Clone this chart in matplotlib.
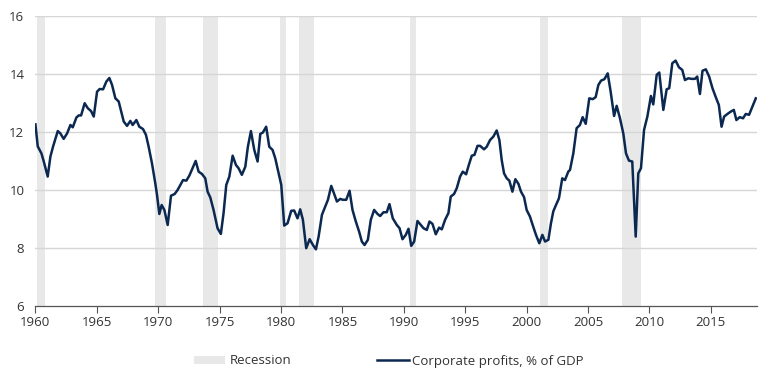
import matplotlib.pyplot as plt
from matplotlib.patches import Patch
from matplotlib.lines import Line2D

plt.rcParams['font.family'] = ['Open Sans', 'DejaVu Sans']

# corporate profits, % of GDP (roughly quarterly)
years = [
    1960.0, 1960.19, 1960.49, 1960.68, 1961.0, 1961.22, 1961.44, 1961.82,
    1962.03, 1962.3, 1962.58, 1962.85, 1963.04, 1963.34, 1963.53, 1963.72,
    1964.01, 1964.26, 1964.53, 1964.75, 1965.02, 1965.23, 1965.51, 1965.78,
    1966.02, 1966.24, 1966.51, 1966.78, 1967.05, 1967.19, 1967.46, 1967.73,
    1967.92, 1968.22, 1968.46, 1968.76, 1969.0, 1969.22, 1969.49, 1969.76,
    1969.9, 1970.09, 1970.28, 1970.5, 1970.77, 1971.04, 1971.34, 1971.58,
    1971.8, 1972.02, 1972.29, 1972.53, 1972.8, 1973.05, 1973.29, 1973.56,
    1973.83, 1974.02, 1974.24, 1974.51, 1974.83, 1975.1, 1975.32, 1975.54,
    1975.79, 1976.06, 1976.33, 1976.54, 1976.81, 1977.09, 1977.3, 1977.55,
    1977.82, 1978.09, 1978.31, 1978.52, 1978.79, 1979.04, 1979.31, 1979.53,
    1979.74, 1980.02, 1980.26, 1980.53, 1980.83, 1981.07, 1981.34, 1981.56,
    1981.78, 1982.05, 1982.33, 1982.6, 1982.84, 1983.06, 1983.33, 1983.6,
    1983.82, 1984.09, 1984.33, 1984.55, 1984.82, 1985.03, 1985.31, 1985.58,
    1985.82, 1986.09, 1986.36, 1986.58, 1986.8, 1987.07, 1987.31, 1987.58,
    1987.86, 1988.07, 1988.34, 1988.61, 1988.83, 1989.1, 1989.43, 1989.65,
    1989.89, 1990.16, 1990.38, 1990.6, 1990.84, 1991.11, 1991.38, 1991.6,
    1991.87, 1992.09, 1992.33, 1992.6, 1992.87, 1993.09, 1993.36, 1993.63,
    1993.82, 1994.09, 1994.31, 1994.58, 1994.8, 1995.07, 1995.29, 1995.53,
    1995.75, 1996.0, 1996.21, 1996.53, 1996.75, 1997.02, 1997.29, 1997.56,
    1997.78, 1997.97, 1998.16, 1998.38, 1998.59, 1998.84, 1999.08, 1999.33,
    1999.54, 1999.79, 2000.0, 2000.27, 2000.49, 2000.76, 2001.03, 2001.28,
    2001.5, 2001.77, 2001.98, 2002.17, 2002.39, 2002.63, 2002.9, 2003.12,
    2003.39, 2003.53, 2003.8, 2004.07, 2004.34, 2004.56, 2004.81, 2005.1,
    2005.38, 2005.62, 2005.84, 2006.06, 2006.33, 2006.6, 2006.84, 2007.12,
    2007.33, 2007.6, 2007.87, 2008.09, 2008.33, 2008.6, 2008.88, 2009.09,
    2009.31, 2009.56, 2009.83, 2010.12, 2010.31, 2010.59, 2010.8, 2011.13,
    2011.4, 2011.61, 2011.86, 2012.13, 2012.4, 2012.67, 2012.89, 2013.16,
    2013.43, 2013.7, 2013.89, 2014.11, 2014.32, 2014.59, 2014.86, 2015.13,
    2015.4, 2015.65, 2015.87, 2016.08, 2016.35, 2016.62, 2016.87, 2017.08,
    2017.35, 2017.62, 2017.84, 2018.11, 2018.38, 2018.66,
]
profits = [
    12.26, 11.5, 11.26, 10.98, 10.46, 11.15, 11.5, 12.03,
    11.95, 11.76, 11.95, 12.24, 12.16, 12.5, 12.57, 12.57,
    12.99, 12.82, 12.72, 12.53, 13.39, 13.48, 13.47, 13.74,
    13.86, 13.62, 13.16, 13.05, 12.6, 12.36, 12.21, 12.38,
    12.24, 12.41, 12.18, 12.1, 11.9, 11.49, 10.92, 10.23,
    9.83, 9.17, 9.48, 9.31, 8.79, 9.8, 9.86, 10.0,
    10.17, 10.34, 10.32, 10.49, 10.75, 11.0, 10.63, 10.55,
    10.4, 9.94, 9.74, 9.3, 8.68, 8.48, 9.2, 10.17,
    10.46, 11.18, 10.86, 10.75, 10.52, 10.8, 11.49, 12.03,
    11.38, 10.98, 11.93, 11.98, 12.18, 11.49, 11.38, 11.09,
    10.69, 10.17, 8.77, 8.85, 9.28, 9.29, 9.02, 9.33,
    8.97, 7.99, 8.3, 8.1, 7.95, 8.39, 9.14, 9.43,
    9.66, 10.14, 9.86, 9.6, 9.69, 9.66, 9.66, 9.97,
    9.31, 8.91, 8.56, 8.22, 8.1, 8.28, 8.97, 9.31,
    9.17, 9.1, 9.23, 9.23, 9.51, 9.02, 8.79, 8.68,
    8.3, 8.45, 8.66, 8.07, 8.22, 8.93, 8.79, 8.68,
    8.62, 8.91, 8.83, 8.47, 8.7, 8.64, 8.97, 9.2,
    9.77, 9.86, 10.06, 10.46, 10.63, 10.54, 10.86, 11.18,
    11.21, 11.52, 11.52, 11.4, 11.49, 11.72, 11.84, 12.05,
    11.72, 11.03, 10.57, 10.4, 10.32, 9.94, 10.37, 10.21,
    9.94, 9.75, 9.31, 9.08, 8.79, 8.45, 8.16, 8.45,
    8.22, 8.28, 8.85, 9.26, 9.48, 9.71, 10.4, 10.34,
    10.63, 10.69, 11.26, 12.13, 12.24, 12.51, 12.28, 13.16,
    13.13, 13.2, 13.62, 13.77, 13.82, 14.02, 13.39, 12.55,
    12.9, 12.47, 11.95, 11.26, 11.01, 10.98, 8.39, 10.57,
    10.75, 12.07, 12.53, 13.24, 12.95, 13.97, 14.05, 12.76,
    13.47, 13.51, 14.37, 14.46, 14.23, 14.14, 13.79, 13.85,
    13.83, 13.83, 13.91, 13.31, 14.11, 14.16, 13.91, 13.51,
    13.2, 12.93, 12.18, 12.53, 12.62, 12.7, 12.76, 12.41,
    12.51, 12.47, 12.62, 12.59, 12.87, 13.16,
]

# recession bands (start, end) as fractional years, as drawn
rec_start = [1960.15, 1969.7, 1973.67, 1979.95, 1981.48, 1990.5, 2001.08, 2007.77]
rec_end = [1960.8, 1970.65, 1974.9, 1980.42, 1982.7, 1991.0, 2001.75, 2009.3]

xticks = list(range(1960, 2016, 5))
yticks = [6, 8, 10, 12, 14, 16]

line_col = '#0b2850'
rec_col = '#e8e8e8'
grid_col = '#d6d6d6'
text_col = '#333333'

fig = plt.figure(figsize=(7.7, 3.8), dpi=100)
ax = fig.add_axes([0.046, 0.195, 0.937, 0.763])

for s, e in zip(rec_start, rec_end):
    ax.axvspan(s, e, color=rec_col, lw=0, zorder=0)

for y in yticks[1:]:
    ax.axhline(y, color=grid_col, lw=1.0, zorder=1)

ax.plot(years, profits, color=line_col, lw=1.8, zorder=3)

ax.set_xlim(1960, 2018.75)
ax.set_ylim(6, 16)
ax.set_xticks(xticks)
ax.set_yticks(yticks)
ax.tick_params(axis='y', length=0, labelsize=9.5, colors=text_col, pad=8)
ax.tick_params(axis='x', length=5, width=0.8, color='#555555',
               labelsize=9.5, labelcolor=text_col, pad=2)
for side in ['top', 'right', 'left']:
    ax.spines[side].set_visible(False)
ax.spines['bottom'].set_color('#555555')
ax.spines['bottom'].set_linewidth(0.9)

handles = [Patch(facecolor=rec_col, edgecolor='none'),
           Line2D([0], [0], color=line_col, lw=1.8)]
labels = ['Recession', 'Corporate profits, % of GDP']
fig.legend(handles, labels, loc='center', ncol=2, frameon=False,
           bbox_to_anchor=(0.505, 0.05), fontsize=9.5, labelcolor=text_col,
           handlelength=2.4, handleheight=0.6, handletextpad=0.3,
           columnspacing=6.5)

fig.savefig('out.png', dpi=100)
